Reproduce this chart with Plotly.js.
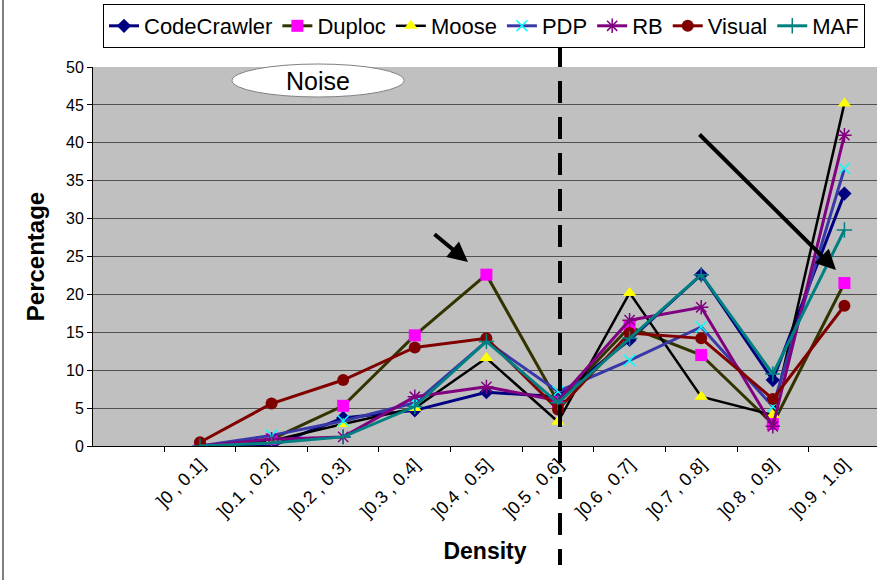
<!DOCTYPE html>
<html>
<head>
<meta charset="utf-8">
<script src="https://cdn.plot.ly/plotly-3.0.1.min.js"></script>
<style>html,body{margin:0;padding:0;background:#fff;}#chart{width:877px;height:580px;}</style>
</head>
<body>
<div id="chart"></div>
<script>
const categories = ["]0 , 0.1]", "]0.1 , 0.2]", "]0.2 , 0.3]", "]0.3 , 0.4]", "]0.4 , 0.5]",
                    "]0.5 , 0.6]", "]0.6 , 0.7]", "]0.7 , 0.8]", "]0.8 , 0.9]", "]0.9 , 1.0]"];
const codeCrawler = [0, 0, 3.7, 4.7, 7.1, 6.5, 14.0, 22.6, 8.7, 33.3];
const duploc      = [0, 0.9, 5.3, 14.6, 22.6, 5.8, 15.7, 12.0, 2.9, 21.5];
const moose       = [0, 0.7, 2.9, 5.0, 11.6, 3.2, 20.2, 6.5, 4.1, 45.2];
const pdp         = [0, 1.4, 3.3, 5.7, 13.8, 7.2, 11.3, 15.7, 5.2, 36.6];
const rb          = [0, 0.9, 1.2, 6.5, 7.8, 6.0, 16.6, 18.3, 2.6, 41.0];
const visual      = [0.5, 5.6, 8.7, 13.0, 14.2, 4.8, 14.9, 14.2, 6.2, 18.5];
const maf         = [0, 0.4, 1.2, 5.2, 13.8, 5.7, 14.2, 22.6, 9.5, 28.5];
const seriesNames = ["CodeCrawler", "Duploc", "Moose", "PDP", "RB", "Visual", "MAF"];

const styles = [
  {line:'#000080', lw:3, m:{symbol:'diamond', size:11, color:'#000080'}},
  {line:'#333300', lw:3, m:{symbol:'square', size:12, color:'#ff00ff'}},
  {line:'#000000', lw:2.5, m:{symbol:'triangle-up', size:12, color:'#ffff00'}},
  {line:'#3838a8', lw:3, m:{symbol:'x-thin-open', size:11, color:'#00ffff', line:{color:'#00ffff', width:1.5}}},
  {line:'#800080', lw:3, m:{symbol:'asterisk-open', size:12, color:'#800080', line:{color:'#800080', width:1.5}}},
  {line:'#800000', lw:3, m:{symbol:'circle', size:12, color:'#800000'}},
  {line:'#008080', lw:3, m:{symbol:'cross-thin-open', size:11, color:'#008080', line:{color:'#008080', width:1.5}}}
];
const values = [codeCrawler, duploc, moose, pdp, rb, visual, maf];

const traces = values.map((v, i) => ({
  type: 'scatter', mode: 'lines+markers', name: seriesNames[i],
  x: categories, y: v,
  line: {color: styles[i].line, width: styles[i].lw},
  marker: styles[i].m
}));

const W = 877, H = 580, L = 93, R = 0, T = 67, B = 134;
const pw = W - L - R, ph = H - T - B;
const px = x => (x - L) / pw;
const py = y => (H - B - y) / ph;

const layout = {
  width: W, height: H,
  margin: {l: L, r: R, t: T, b: B, pad: 0},
  paper_bgcolor: '#ffffff',
  plot_bgcolor: '#c0c0c0',
  font: {family: 'Arial, "Liberation Sans", sans-serif', color: '#000'},
  showlegend: true,
  legend: {
    orientation: 'h', x: px(103), y: py(4), xanchor: 'left', yanchor: 'top',
    bgcolor: '#ffffff', bordercolor: '#000', borderwidth: 1,
    font: {size: 22, family: 'Arial, "Liberation Sans", sans-serif'},
    itemwidth: 30, tracegroupgap: 0
  },
  xaxis: {
    type: 'category', range: [-1.494, 9.455],
    tickson: 'boundaries', ticks: 'outside', ticklen: 5, tickcolor: '#000',
    showline: true, linecolor: '#000', linewidth: 1, showgrid: false, zeroline: false,
    tickangle: -45, tickfont: {size: 18},
    title: {text: 'Density', font: {size: 23, weight: 'bold'}, standoff: 22}
  },
  yaxis: {
    range: [0, 50], dtick: 5, ticks: 'outside', ticklen: 5, tickcolor: '#000',
    showline: true, linecolor: '#000', linewidth: 1,
    showgrid: true, gridcolor: '#505050', gridwidth: 1, zeroline: false,
    tickfont: {size: 16},
    title: {text: 'Percentage', font: {size: 24, weight: 'bold'}, standoff: 14}
  },
  shapes: [
    {type: 'line', xref: 'paper', yref: 'paper', x0: px(560), x1: px(560), y0: py(45), y1: py(565),
     line: {color: '#000', width: 4, dash: '22px,14px'}},
    {type: 'circle', xref: 'paper', yref: 'paper', x0: px(232), x1: px(404), y0: py(97), y1: py(64),
     fillcolor: '#ffffff', line: {color: '#808080', width: 1}},
    {type: 'line', xref: 'paper', yref: 'paper', x0: px(3), x1: px(3), y0: py(0), y1: py(580),
     line: {color: '#000', width: 1}}
  ],
  annotations: [
    {xref: 'paper', yref: 'paper', x: px(318), y: py(81), xanchor: 'center', yanchor: 'middle',
     text: 'Noise', showarrow: false, font: {size: 25}},
    {xref: 'paper', yref: 'paper', x: px(468), y: py(262), ax: -35, ay: -29, axref: 'pixel', ayref: 'pixel',
     text: '', showarrow: true, arrowhead: 2, arrowsize: 1, arrowwidth: 4, arrowcolor: '#000', standoff: 0},
    {xref: 'paper', yref: 'paper', x: px(836), y: py(270), ax: -138, ay: -137, axref: 'pixel', ayref: 'pixel',
     text: '', showarrow: true, arrowhead: 2, arrowsize: 1, arrowwidth: 4, arrowcolor: '#000', standoff: 0}
  ]
};

Plotly.newPlot('chart', traces, layout, {displayModeBar: false, staticPlot: true});
</script>
</body>
</html>
